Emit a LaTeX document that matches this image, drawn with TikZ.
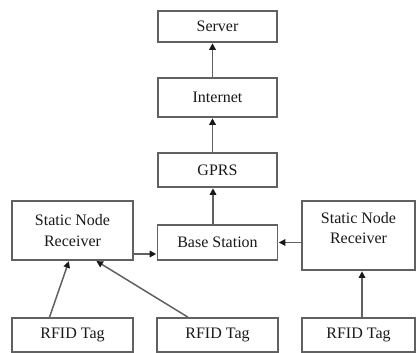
\documentclass[tikz,border=0pt]{standalone}
\usepackage{fontspec}
\setmainfont{Liberation Serif}
\usetikzlibrary{arrows.meta}
\begin{document}
\begin{tikzpicture}[x=1pt,y=-1pt,
  box/.style={draw=black!62, line width=1.6pt, fill=white, inner sep=0pt,
    font=\fontsize{16}{20.5}\selectfont, text=black!90, align=center},
  link/.style={draw=black!62, line width=1.5pt,
    -{Triangle[length=6.5pt,width=6.5pt,color=black!90]}, shorten >=0.5pt},
  lbl/.style={font=\fontsize{16}{20.5}\selectfont, text=black!90, align=center, inner sep=0pt}]
  \useasboundingbox (0,0) rectangle (416,353);

  % upper chain
  \node[box, minimum width=119pt, minimum height=31pt] (server) at (217.5,26.5) {Server};
  \node[box, minimum width=119pt, minimum height=39pt] (internet) at (217.5,97.5) {Internet};
  \node[box, minimum width=119pt, minimum height=34pt] (gprs) at (217.5,170) {GPRS};
  \node[box, minimum width=120pt, minimum height=35pt] (base) at (217.5,242.5) {Base Station};

  % static node receivers
  \node[box, minimum width=121pt, minimum height=59pt] (snrL) at (72.5,230.5) {Static Node\\Receiver};
  \node[box, minimum width=113pt, minimum height=69pt] (snrR) at (358.5,235.5) {};
  \node[lbl] (snrRtext) at (358.5,228) {Static Node\\Receiver};

  % tags
  \node[box, minimum width=121pt, minimum height=34pt] (tag1) at (72.5,335) {RFID Tag};
  \node[box, minimum width=121pt, minimum height=34pt] (tag2) at (217.5,335) {RFID Tag};
  \node[box, minimum width=113pt, minimum height=34pt] (tag3) at (358.5,335) {RFID Tag};

  % connectors
  \coordinate (lout) at (snrL.east |- 0,254);
  \draw[link] ([xshift=-5pt]internet.north) -- ([xshift=-5pt]server.south);
  \draw[link] ([xshift=-5pt]gprs.north) -- ([xshift=-5pt]internet.south);
  \draw[link] ([xshift=-4.5pt]base.north) -- ([xshift=-4.5pt]gprs.south);
  \draw[link] (lout) -- (base.west |- lout);
  \draw[link] (snrR.west |- base.east) -- (base.east);
  \draw[link] ([xshift=-23pt]tag1.north) -- ([xshift=-3.5pt]snrL.south);
  \draw[link] ([xshift=-29.5pt]tag2.north) -- ([xshift=23.5pt]snrL.south);
  \draw[link] ([xshift=3.5pt]tag3.north) -- ([xshift=3.5pt]snrR.south);
\end{tikzpicture}
\end{document}
